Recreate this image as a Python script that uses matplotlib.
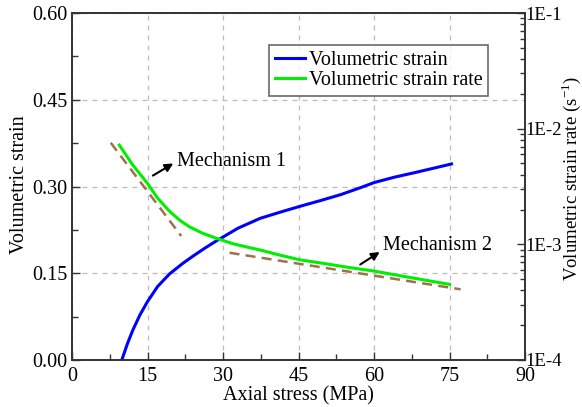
import matplotlib
matplotlib.use("Agg")
import matplotlib.pyplot as plt
from matplotlib.ticker import MultipleLocator, FixedLocator, LogLocator, NullFormatter
import numpy as np

plt.rcParams['font.family'] = ['Liberation Serif', 'DejaVu Serif']
plt.rcParams['mathtext.fontset'] = 'stix'

# Volumetric strain (left axis)
strain_x = [9.9, 11.0, 12.1, 13.5, 15.0, 17.0, 19.4, 22.0, 24.1, 26.5, 28.7, 33.0, 37.4, 41.5, 45.4, 49.5, 53.4, 57.0, 60.1, 64.0, 68.1, 72.0, 75.4]
strain_y = [0.0, 0.028, 0.052, 0.078, 0.101, 0.127, 0.149, 0.167, 0.180, 0.194, 0.206, 0.228, 0.245, 0.256, 0.266, 0.276, 0.286, 0.297, 0.307, 0.316, 0.324, 0.332, 0.339]

# Volumetric strain rate (right axis, s^-1)
rate_x = [9.4, 12.0, 15.0, 17.0, 19.4, 21.5, 23.4, 26.0, 28.7, 32.0, 35.4, 37.4, 41.0, 45.4, 50.0, 55.0, 60.0, 65.0, 70.0, 75.0]
rate_log = [-2.142, -2.31, -2.473, -2.60, -2.715, -2.795, -2.850, -2.905, -2.948, -2.995, -3.030, -3.049, -3.09, -3.135, -3.165, -3.20, -3.231, -3.27, -3.308, -3.346]
rate_y = [10 ** v for v in rate_log]

# Mechanism fit lines (dashed)
mech1_x = [7.7, 21.7]
mech1_y = [10 ** -2.122, 10 ** -2.928]
mech2_x = [31.3, 77.2]
mech2_y = [10 ** -3.073, 10 ** -3.389]

xticks = [0, 15, 30, 45, 60, 75, 90]
yticks = [0.00, 0.15, 0.30, 0.45, 0.60]
rticks = [1e-4, 1e-3, 1e-2, 1e-1]
rtick_labels = ['1E-4', '1E-3', '1E-2', '1E-1']

W, H = 582, 407
fig = plt.figure(figsize=(W / 100, H / 100), dpi=100)
ax = fig.add_axes([72 / W, (H - 360) / H, (525 - 72) / W, (360 - 13) / H])
ax2 = ax.twinx()

fs = 14.5
spine_c = '#333333'
grid_c = '#BBBBBB'

ax.set_xlim(0, 90)
ax.set_ylim(0, 0.6)
ax.set_xticks(xticks)
ax.set_yticks(yticks)
ax.set_yticklabels([f"{v:.2f}" for v in yticks])
ax.xaxis.set_minor_locator(MultipleLocator(7.5))
ax.yaxis.set_minor_locator(MultipleLocator(0.075))
ax.tick_params(which='both', direction='in', labelsize=fs, colors=spine_c, labelcolor='black')
ax.tick_params(which='major', length=6, width=1)
ax.tick_params(which='minor', length=4, width=1)
ax.tick_params(axis='x', pad=5)
ax.tick_params(axis='y', pad=3)
ax.tick_params(axis='y', which='both', right=False)
ax.tick_params(axis='x', which='both', top=False)
ax.grid(True, which='major', linestyle=(0, (4, 4)), color=grid_c, linewidth=0.9)
ax.set_axisbelow(True)

ax2.set_yscale('log')
ax2.set_ylim(1e-4, 1e-1)
ax2.yaxis.set_major_locator(FixedLocator(rticks))
ax2.set_yticklabels(rtick_labels)
ax2.yaxis.set_minor_locator(LogLocator(base=10, subs=np.arange(2, 10)))
ax2.yaxis.set_minor_formatter(NullFormatter())
ax2.tick_params(which='both', direction='in', labelsize=13.5, colors=spine_c, labelcolor='black', pad=0)
ax2.tick_params(which='major', length=6, width=1)
ax2.tick_params(which='minor', length=3.5, width=1)

for a in (ax, ax2):
    for s in a.spines.values():
        s.set_color(spine_c)
        s.set_linewidth(1.2)

l1, = ax.plot(strain_x, strain_y, color='#0000FF', linewidth=2.2, label='Volumetric strain', zorder=3)
l2, = ax2.plot(rate_x, rate_y, color='#00EE00', linewidth=2.2, label='Volumetric strain rate', zorder=3)
ax2.plot(mech1_x, mech1_y, color='#A07048', linewidth=1.8, linestyle=(0, (4, 2.5)), zorder=2)
ax2.plot(mech2_x, mech2_y, color='#A07048', linewidth=1.8, linestyle=(0, (4, 2.5)), zorder=2)

ax.set_xlabel('Axial stress (MPa)', fontsize=fs, labelpad=0)
fig.text(20 / W, 1 - 185 / H, 'Volumetric strain', fontsize=fs, rotation=90,
         ha='center', va='center')
fig.text(571.5 / W, 1 - 178 / H, 'Volumetric strain rate (s$^{\\mathregular{-1}}$)', fontsize=13.5,
         rotation=90, ha='center', va='center')

# Annotations (positions in data coords of left axis)
def px2data(px, py):
    return ((px - 73) / 5.0, (360 - py) * 0.15 / 86.75)

ax.annotate('', xy=px2data(176, 162), xytext=px2data(151, 177),
            arrowprops=dict(arrowstyle='-|>', color='black', lw=1.5, mutation_scale=12))
ax.text(*px2data(177, 161), 'Mechanism 1', fontsize=fs, ha='left', va='center')
ax.annotate('', xy=px2data(381, 250.5), xytext=px2data(357, 266),
            arrowprops=dict(arrowstyle='-|>', color='black', lw=1.5, mutation_scale=12))
ax.text(*px2data(382, 245), 'Mechanism 2', fontsize=fs, ha='left', va='center')

leg = ax.legend(handles=[l1, l2], loc='upper right', bbox_to_anchor=(0.919, 0.908),
                fontsize=fs, frameon=True, fancybox=False, edgecolor='#444444',
                borderpad=0.3, labelspacing=0.05, handlelength=1.5, handletextpad=0.15,
                borderaxespad=0)
leg.get_frame().set_linewidth(1.2)
leg.set_zorder(5)

fig.savefig('out.png', dpi=100)
